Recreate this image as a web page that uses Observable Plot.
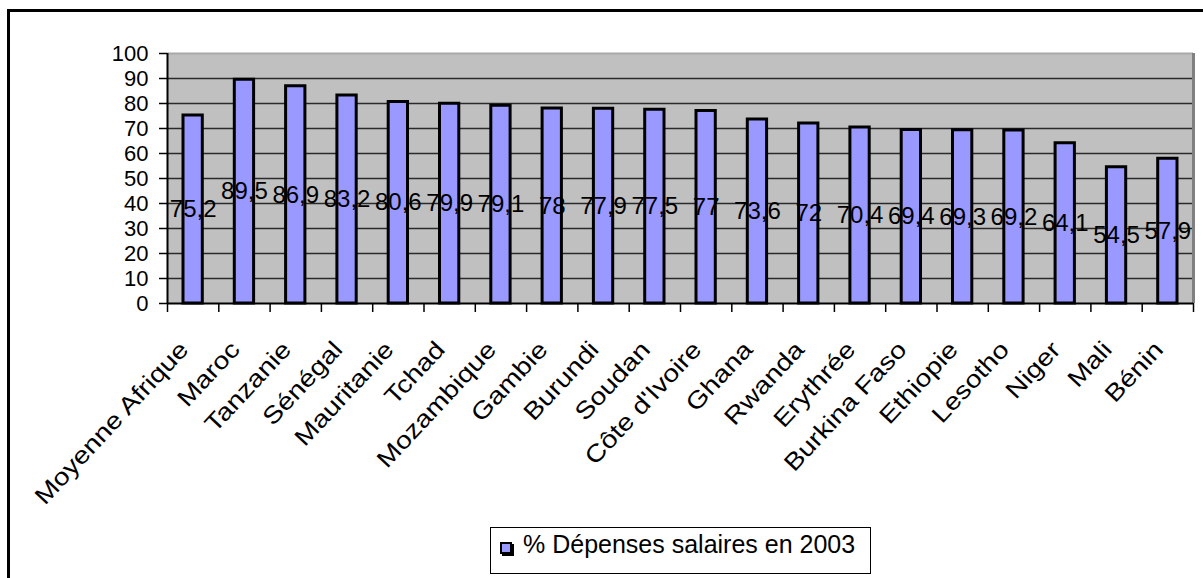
<!DOCTYPE html>
<html>
<head>
<meta charset="utf-8">
<script src="https://cdn.jsdelivr.net/npm/d3@7"></script>
<script src="https://cdn.jsdelivr.net/npm/@observablehq/plot@0.6"></script>
<style>
  html, body { margin: 0; padding: 0; background: white; }
  #wrap { position: relative; width: 1203px; height: 578px; overflow: hidden; background: white; font-family: "Liberation Sans", Arial, sans-serif; }
  #chart { position: absolute; left: 0; top: 0; }
  #frame { position: absolute; left: 7px; top: 9px; width: 1300px; height: 700px; border: 3px solid black; pointer-events: none; }
  #legend { position: absolute; left: 490px; top: 527px; width: 379px; height: 45px; border: 1px solid black; background: white; }
  #legend .sw { position: absolute; left: 9px; top: 14px; width: 8px; height: 8px; background: #9999ff; border: 2px solid black; box-shadow: 2px 2px 0 black; }
  #legend .lbl { position: absolute; left: 32px; top: 4px; font-size: 25px; line-height: 24px; color: black; white-space: nowrap; }
</style>
</head>
<body>
<div id="wrap">
  <div id="chart"></div>
  <div id="legend"><div class="sw"></div><div class="lbl">% Dépenses salaires en 2003</div></div>
  <div id="frame"></div>
</div>
<script>
const categories = ["Moyenne Afrique", "Maroc", "Tanzanie", "Sénégal", "Mauritanie", "Tchad", "Mozambique", "Gambie", "Burundi", "Soudan", "Côte d'Ivoire", "Ghana", "Rwanda", "Erythrée", "Burkina Faso", "Ethiopie", "Lesotho", "Niger", "Mali", "Bénin"];
const values = [75.2, 89.5, 86.9, 83.2, 80.6, 79.9, 79.1, 78, 77.9, 77.5, 77, 73.6, 72, 70.4, 69.4, 69.3, 69.2, 64.1, 54.5, 57.9];
const valueLabels = ["75,2", "89,5", "86,9", "83,2", "80,6", "79,9", "79,1", "78", "77,9", "77,5", "77", "73,6", "72", "70,4", "69,4", "69,3", "69,2", "64,1", "54,5", "57,9"];
const yTicks = [0, 10, 20, 30, 40, 50, 60, 70, 80, 90, 100];

const data = categories.map((c, i) => ({i, c, v: values[i], label: valueLabels[i]}));
const n = categories.length;
const boundaries = d3.range(0, n + 1);

const chart = Plot.plot({
  width: 1203,
  height: 525,
  marginLeft: 167,
  marginRight: 10,
  marginTop: 53,
  marginBottom: 222,
  style: {background: "transparent", fontFamily: "'Liberation Sans', Arial, sans-serif", color: "black", overflow: "visible"},
  x: {type: "linear", domain: [0, n], axis: null},
  y: {domain: [0, 100], axis: null},
  marks: [
    Plot.frame({fill: "#c0c0c0", stroke: null}),
    Plot.ruleY(yTicks.slice(1, -1), {stroke: "#2a2a2a", strokeWidth: 1.5}),
    Plot.ruleY([100], {stroke: "#a8a8a8", strokeWidth: 2}),
    Plot.ruleX([n], {stroke: "#808080", strokeWidth: 3}),
    Plot.rectY(data, {x1: "i", x2: d => d.i + 1, y: "v", insetLeft: 16, insetRight: 16, fill: "#9999ff", stroke: "black", strokeWidth: 3}),
    Plot.axisY({ticks: yTicks, label: null, tickSize: 8, tickPadding: 11, fontSize: 22, stroke: "black", strokeWidth: 1.5, fill: "black"}),
    Plot.axisX({ticks: boundaries, label: null, tickSize: 9, tickFormat: () => "", stroke: "black", strokeWidth: 1.5}),
    Plot.ruleX([0], {stroke: "black", strokeWidth: 2}),
    Plot.ruleY([0], {stroke: "black", strokeWidth: 2}),
    Plot.text(data, {x: d => d.i + 0.5, y: d => d.v / 2, text: "label", fontSize: 24, fill: "black"}),
    Plot.text(data, {x: d => d.i + 0.5, y: 0, text: "c", rotate: -47, textAnchor: "end", dx: -9, dy: 42, fontSize: 24, fill: "black"})
  ]
});
document.getElementById("chart").appendChild(chart);
// stretch the rotated category labels along their direction, like the reference's wide lettering
const textGroups = chart.querySelectorAll('g[aria-label="text"]');
const catGroup = textGroups[textGroups.length - 1];
catGroup.querySelectorAll("text").forEach(t => {
  const tr = t.getAttribute("transform") || "";
  t.setAttribute("transform", tr + " scale(1.18,1)");
});
</script>
</body>
</html>
